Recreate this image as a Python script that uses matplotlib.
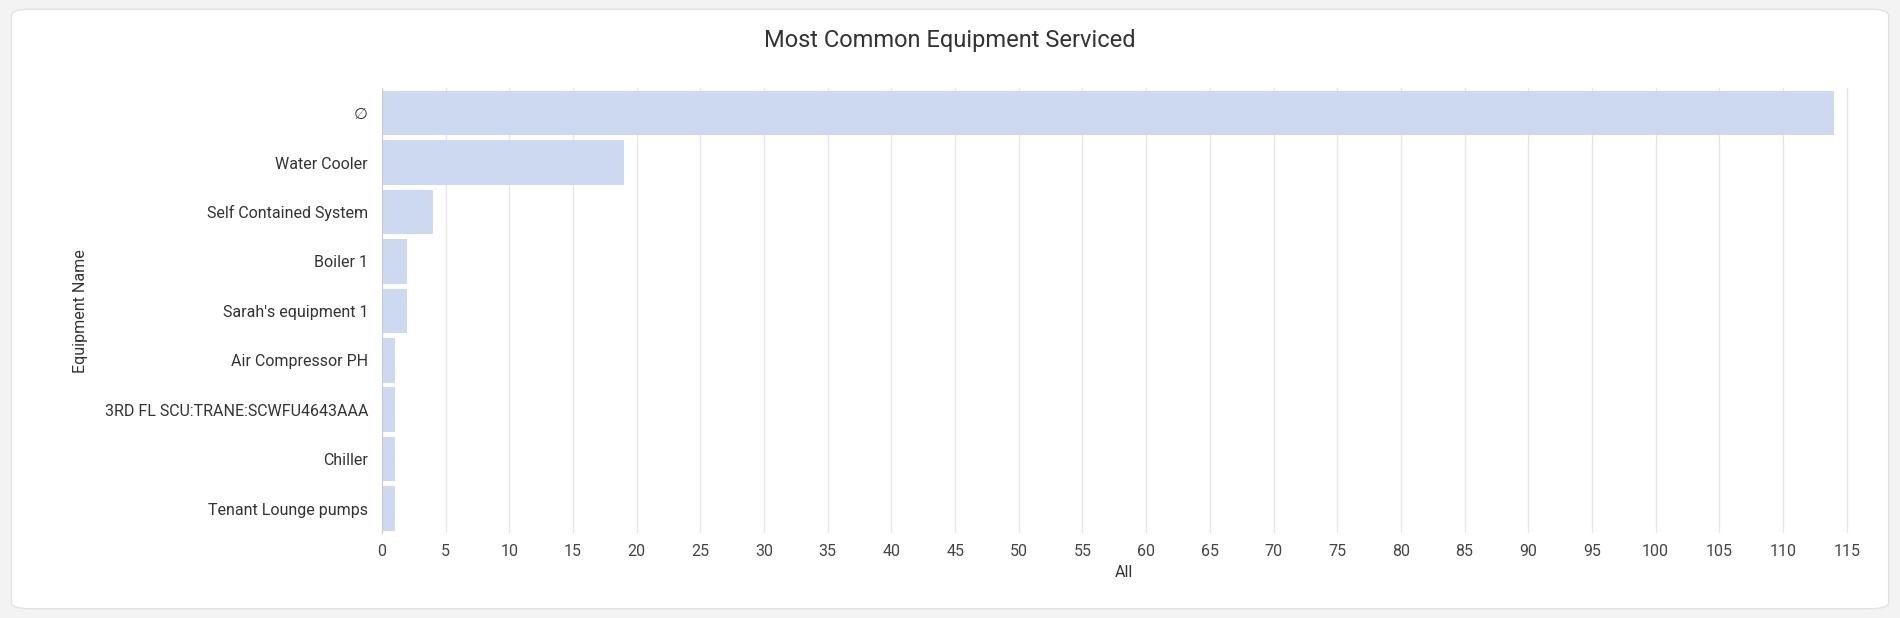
import matplotlib.pyplot as plt
from matplotlib.patches import FancyBboxPatch

equipment = ["∅", "Water Cooler", "Self Contained System", "Boiler 1", "Sarah's equipment 1",
             "Air Compressor PH", "3RD FL SCU:TRANE:SCWFU4643AAA", "Chiller", "Tenant Lounge pumps"]
counts = [114, 19, 4, 2, 2, 1, 1, 1, 1]
xticks = list(range(0, 120, 5))

plt.rcParams['font.family'] = ['Roboto', 'DejaVu Sans']
fig = plt.figure(figsize=(19, 6.18), dpi=100)
fig.patch.set_facecolor("#f3f3f3")
card = FancyBboxPatch((0.006, 0.015), 0.988, 0.97, boxstyle="round,pad=0,rounding_size=0.01",
                      transform=fig.transFigure, facecolor="white", edgecolor="#e2e2e2", lw=1,
                      zorder=-10)
fig.add_artist(card)

ax = fig.add_axes([0.201, 0.137, 0.781, 0.72])
ax.set_facecolor("none")
y = range(len(equipment))
ax.barh(y, counts, height=0.9, color="#cdd9f1")
ax.set_yticks(list(y))
ax.set_yticklabels(equipment, fontsize=11.5, color="#333333")
ax.set_ylim(len(equipment) - 0.5, -0.5)
ax.set_xlim(0, 116.5)
ax.set_xticks(xticks)
ax.tick_params(axis="x", labelsize=11.5, colors="#444444", length=0, pad=8)
ax.tick_params(axis="y", length=0, pad=10)
ax.grid(axis="x", color="#e6e6e6", lw=1)
ax.set_axisbelow(True)
for s in ["top", "right", "bottom"]:
    ax.spines[s].set_visible(False)
ax.spines["left"].set_color("#cccccc")
ax.set_xlabel("All", fontsize=11.5, color="#333333", labelpad=4)
ax.set_ylabel("Equipment Name", fontsize=11.5, color="#333333", labelpad=12)
fig.text(0.5, 0.935, "Most Common Equipment Serviced", ha="center", va="center",
         fontsize=17, color="#333333")

fig.savefig("out.png", dpi=100, facecolor=fig.get_facecolor())
